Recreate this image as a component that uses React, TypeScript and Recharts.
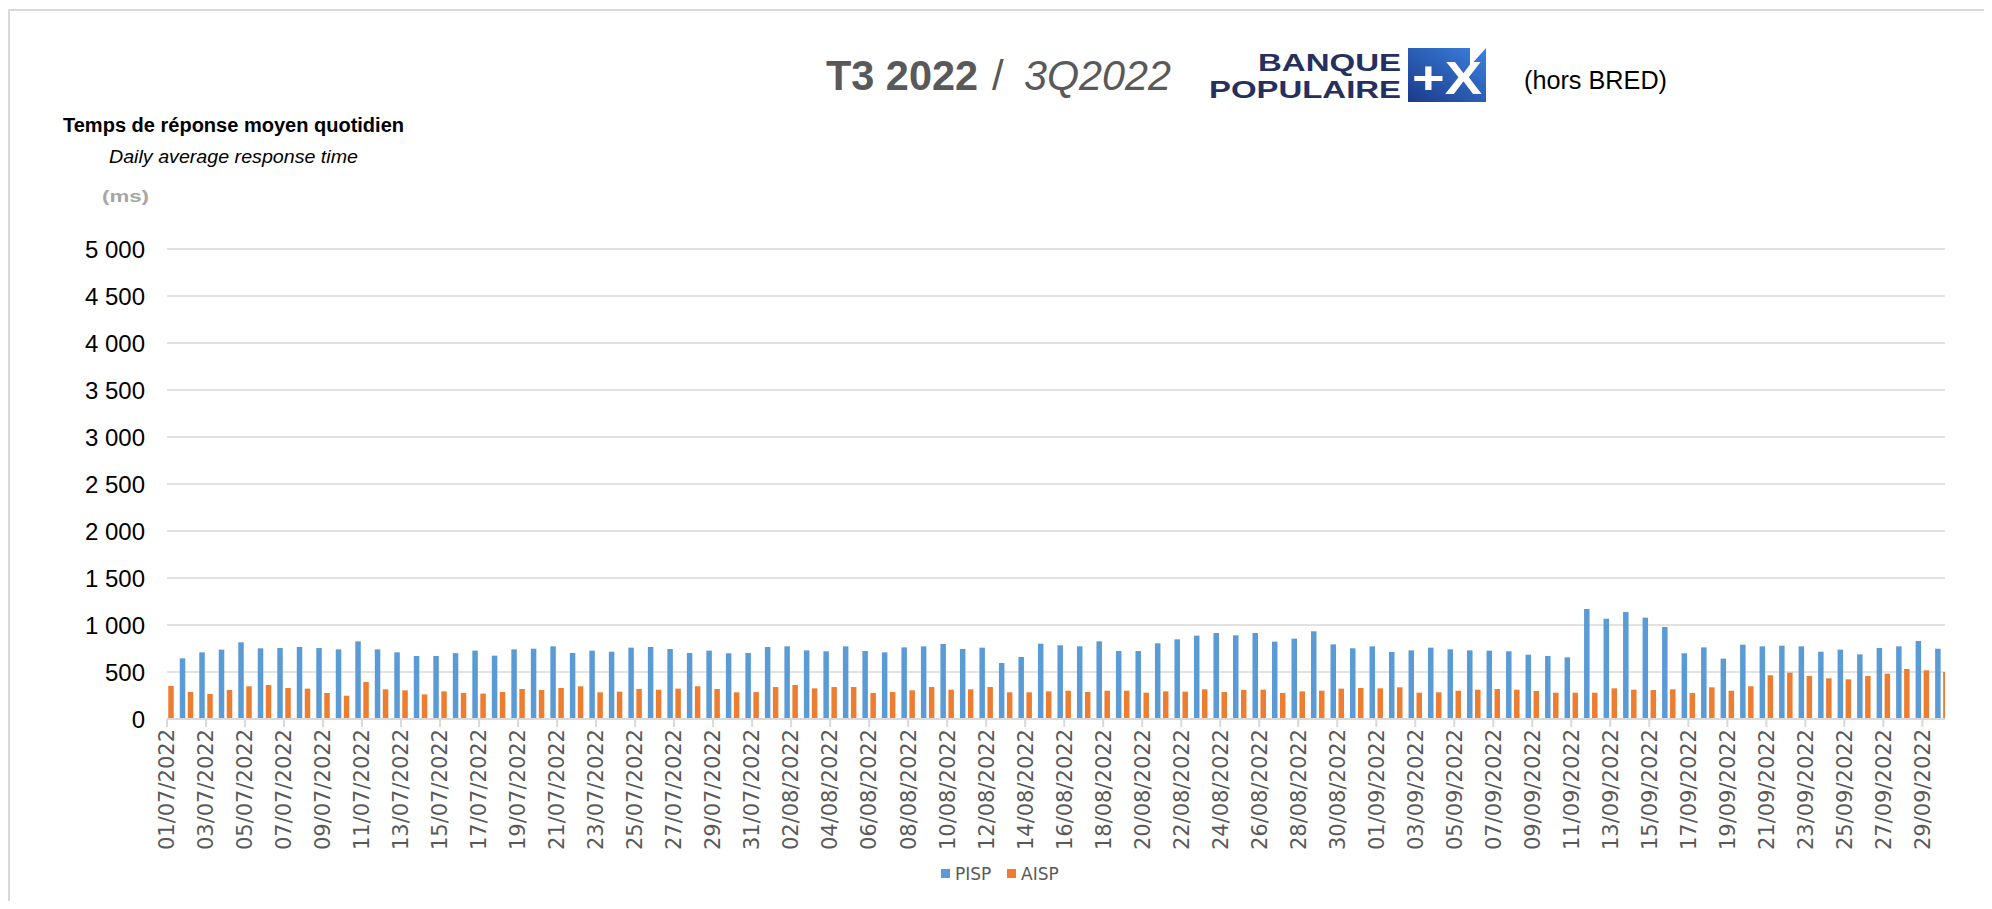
import React from 'react';
import { BarChart, Bar, XAxis, YAxis, CartesianGrid } from 'recharts';

// days of T3 2022
const MONTHS = [
  { m: '07', days: 31 },
  { m: '08', days: 31 },
  { m: '09', days: 30 },
];
const DATES = MONTHS.flatMap(({ m, days }) =>
  Array.from({ length: days }, (_, d) => `${String(d + 1).padStart(2, '0')}/${m}/2022`)
);

// daily average response time, ms
const PISP = [
  700, 645, 709, 738, 816, 752, 755, 766, 755, 741, 826, 741, 709, 670, 670, 700,
  727, 674, 741, 748, 773, 702, 727, 716, 759, 766, 745, 702, 727, 699, 702,
  766, 773, 730, 720, 773, 723, 709, 762, 773, 798, 745, 759, 596, 660, 801,
  784, 773, 826, 723, 723, 805, 848, 887, 915, 890, 915, 823, 855, 933, 794, 752,
  773, 713, 730, 759, 741, 730, 727, 720, 684, 670, 656, 1170, 1067, 1138, 1078,
  979, 699, 762, 642, 791, 773, 780, 773, 716, 738, 688, 755, 773, 830, 748,
];
const AISP = [
  351, 287, 266, 309, 348, 362, 330, 323, 277, 248, 394, 316, 305, 262, 294, 277,
  270, 287, 319, 309, 330, 348, 284, 291, 319, 312, 323, 348, 319, 284, 286,
  340, 362, 326, 340, 340, 277, 287, 305, 340, 312, 316, 340, 284, 284, 294,
  301, 287, 301, 301, 280, 294, 291, 316, 287, 309, 312, 277, 294, 301, 323, 330,
  326, 337, 280, 284, 301, 312, 319, 312, 298, 280, 280, 280, 326, 312, 309,
  316, 277, 337, 301, 348, 465, 493, 457, 433, 422, 457, 482, 532, 518, 500,
];

const Y_TICKS = [0, 500, 1000, 1500, 2000, 2500, 3000, 3500, 4000, 4500, 5000];
const X_TICKS = DATES.map((_, i) => i).filter((i) => i % 2 === 0);

const data = DATES.map((date, i) => ({ i, date, PISP: PISP[i], AISP: AISP[i] }));

const BLUE = '#5b9bd5';
const ORANGE = '#ed7d31';
const GRID = '#d9d9d9';

const fmt = (v: number) =>
  v >= 1000 ? `${Math.floor(v / 1000)} ${String(v % 1000).padStart(3, '0')}` : `${v}`;

const DateTick = ({ x, y, payload }: any) => (
  <text
    x={x}
    y={y}
    transform={`rotate(-90 ${x} ${y})`}
    textAnchor="end"
    dy="0.35em"
    fontSize={21}
    fill="#595959"
    fontFamily="DejaVu Sans"
  >
    {DATES[payload.value]}
  </text>
);

export default function App() {
  return (
    <div style={{ position: 'relative', width: 1976, height: 893, overflow: 'hidden', fontFamily: 'Liberation Sans, Arial, sans-serif' }}>
      <div style={{ position: 'absolute', left: 0, top: 1, width: 2000, height: 1000, borderTop: `2px solid ${GRID}`, borderLeft: `2px solid ${GRID}` }} />

      <BarChart
        width={1976}
        height={893}
        data={data}
        margin={{ top: 241, right: 39, bottom: 42, left: 99 }}
        barSize={5.5}
        barGap={2.5}
        style={{ position: 'absolute', left: 0, top: 0 }}
      >
        <CartesianGrid vertical={false} stroke={GRID} strokeWidth={1.5} />
        <XAxis
          type="number"
          dataKey="i"
          domain={[0, 91.16]}
          allowDataOverflow
          ticks={X_TICKS}
          interval={0}
          tick={<DateTick />}
          height={140}
          tickSize={8}
          tickMargin={2}
          axisLine={{ stroke: GRID, strokeWidth: 2 }}
          tickLine={{ stroke: GRID, strokeWidth: 2 }}
        />
        <YAxis
          domain={[0, 5000]}
          ticks={Y_TICKS}
          tickFormatter={fmt}
          width={60}
          axisLine={false}
          tickLine={false}
          tickSize={0}
          tickMargin={22}
          tick={{ fontSize: 24, fill: '#000', fontFamily: 'Liberation Sans' }}
        />
        <Bar dataKey="PISP" fill={BLUE} isAnimationActive={false} />
        <Bar dataKey="AISP" fill={ORANGE} isAnimationActive={false} />
      </BarChart>

      <svg width={1976} height={893} style={{ position: 'absolute', left: 0, top: 0, pointerEvents: 'none' }}>
        <text x={55} y={124} fontSize={20} fontWeight="bold" textLength={341} lengthAdjust="spacingAndGlyphs">
          Temps de réponse moyen quotidien
        </text>
        <text x={101} y={155} fontSize={18} fontStyle="italic" textLength={249} lengthAdjust="spacingAndGlyphs">
          Daily average response time
        </text>
        <text x={94} y={194} fontSize={16} fontWeight="bold" fill="#a6a6a6" textLength={47} lengthAdjust="spacingAndGlyphs">
          (ms)
        </text>

        <text y={82} fontSize={42} fill="#595959">
          <tspan x={818} fontWeight="bold" textLength={152} lengthAdjust="spacingAndGlyphs">T3 2022</tspan>
          <tspan x={984}>/</tspan>
          <tspan x={1016} fontStyle="italic" textLength={147} lengthAdjust="spacingAndGlyphs">3Q2022</tspan>
        </text>

        <text x={1250} y={63} fontSize={24} fontWeight="bold" fill="#25305e" textLength={143} lengthAdjust="spacingAndGlyphs">
          BANQUE
        </text>
        <text x={1201} y={90} fontSize={24} fontWeight="bold" fill="#25305e" textLength={192} lengthAdjust="spacingAndGlyphs">
          POPULAIRE
        </text>
        <defs>
          <linearGradient id="bpBlue" x1="0" y1="1" x2="1" y2="0">
            <stop offset="0%" stopColor="#1b3a8a" />
            <stop offset="100%" stopColor="#3b82e0" />
          </linearGradient>
        </defs>
        <polygon points="1400,40 1462,40 1462,58 1478,40 1478,94 1400,94" fill="url(#bpBlue)" />
        <text x={1404} y={86} fontSize={46} fontWeight="bold" fill="#fff" textLength={70} lengthAdjust="spacingAndGlyphs">
          +X
        </text>

        <text x={1516} y={81} fontSize={25} fill="#000" textLength={143} lengthAdjust="spacingAndGlyphs">
          (hors BRED)
        </text>

        <rect x={933} y={861} width={9} height={9} fill={BLUE} />
        <text x={947} y={872} fontSize={17} fill="#595959" fontFamily="DejaVu Sans">PISP</text>
        <rect x={999} y={861} width={9} height={9} fill={ORANGE} />
        <text x={1013} y={872} fontSize={17} fill="#595959" fontFamily="DejaVu Sans">AISP</text>
      </svg>
    </div>
  );
}
